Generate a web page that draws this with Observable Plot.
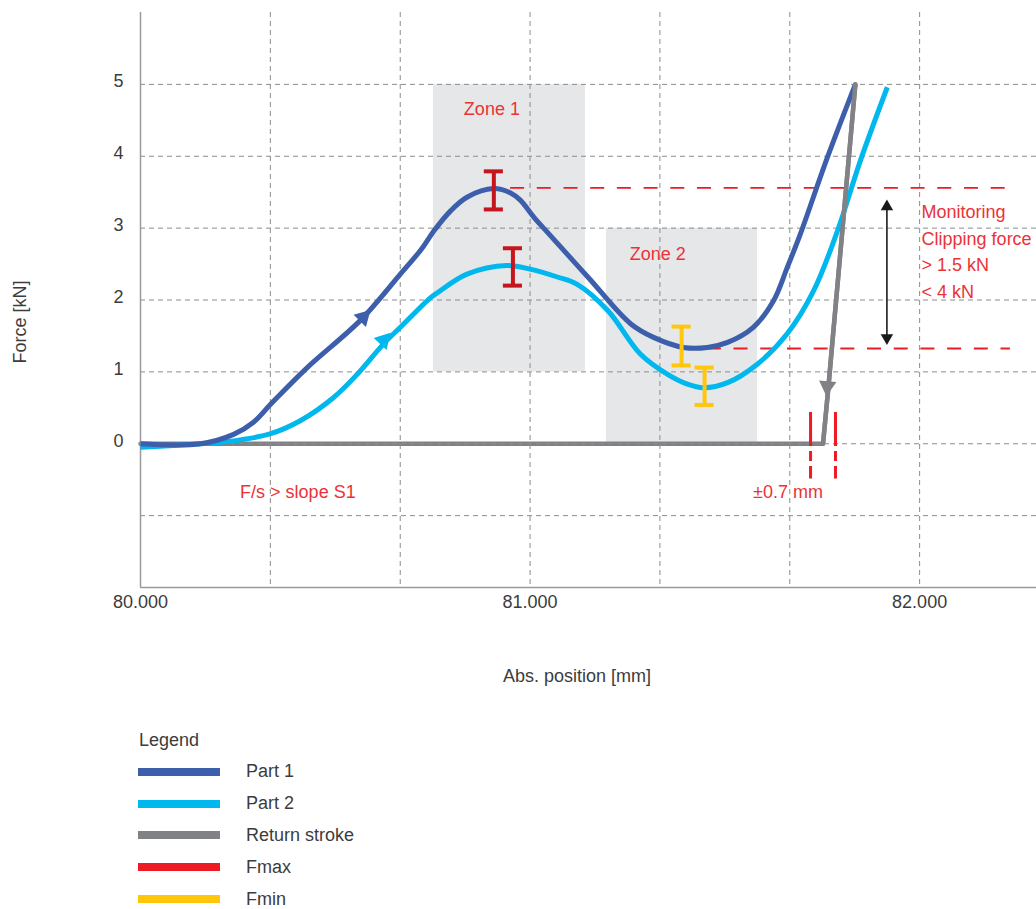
<!DOCTYPE html>
<html>
<head>
<meta charset="utf-8">
<script src="https://cdn.jsdelivr.net/npm/d3@7"></script>
<script src="https://cdn.jsdelivr.net/npm/@observablehq/plot@0.6"></script>
<style>
  body { margin: 0; background: #fff; font-family: "Liberation Sans", Arial, sans-serif; }
  #wrap { position: relative; width: 1036px; height: 909px; overflow: hidden; }
  #chart { position: absolute; left: 0; top: 0; }
  .axlabel { position: absolute; font-size: 18px; color: #3c3c3c; white-space: nowrap; }
  #legend { position: absolute; left: 138px; top: 726px; color: #3c3c3c; font-size: 18px; }
  #legend .title { margin-left: 1px; height: 30px; line-height: 28px; }
  #legend .row { display: flex; align-items: center; height: 31.8px; }
  #legend .sw { width: 82px; height: 8px; margin-right: 26px; }
</style>
</head>
<body>
<div id="wrap">
  <div id="chart"></div>
  <div class="axlabel" style="left:577px; top:676px; transform:translate(-50%,-50%);">Abs. position [mm]</div>
  <div class="axlabel" style="left:20px; top:322px; transform:translate(-50%,-50%) rotate(-90deg);">Force [kN]</div>
  <div id="legend"></div>
</div>
<script>
// ---- data ----
const part1X = [80.0, 80.154, 80.239, 80.29, 80.334, 80.428, 80.565, 80.667, 80.72, 80.753, 80.796, 80.838, 80.906, 80.95, 80.975, 81.01, 81.05, 81.15, 81.258, 81.317, 81.394, 81.455, 81.507, 81.573, 81.625, 81.66, 81.694, 81.763, 81.835];
const part1Y = [0.0, 0.0, 0.13, 0.30, 0.55, 1.06, 1.72, 2.36, 2.70, 2.96, 3.24, 3.43, 3.55, 3.49, 3.39, 3.15, 2.91, 2.31, 1.67, 1.48, 1.34, 1.34, 1.41, 1.62, 1.99, 2.45, 2.92, 3.98, 5.0];
const part2X = [80.0, 80.154, 80.239, 80.334, 80.41, 80.495, 80.557, 80.624, 80.667, 80.744, 80.762, 80.838, 80.94, 81.0, 81.07, 81.12, 81.2, 81.283, 81.352, 81.404, 81.445, 81.507, 81.584, 81.66, 81.728, 81.789, 81.848, 81.917];
const part2Y = [-0.05, 0.0, 0.04, 0.14, 0.32, 0.64, 0.97, 1.39, 1.62, 2.03, 2.10, 2.36, 2.48, 2.43, 2.32, 2.22, 1.85, 1.25, 0.97, 0.83, 0.78, 0.85, 1.11, 1.53, 2.13, 2.96, 3.94, 4.96];
const returnX = [81.835, 81.766, 81.752, 80.0];
const returnY = [5.0, 0.8, 0.0, 0.0];

const zoneNames = ["Zone 1", "Zone 2"];
const zoneX1 = [80.752, 81.196];
const zoneX2 = [81.142, 81.584];
const zoneY1 = [1, 0];
const zoneY2 = [5, 3];
const zoneLabelX = [80.902, 81.328];
const zoneLabelY = [4.66, 2.63];

const fmaxX = [80.907, 80.956];
const fmaxLo = [3.26, 2.20];
const fmaxHi = [3.79, 2.72];
const fminX = [81.389, 81.448];
const fminLo = [1.09, 0.54];
const fminHi = [1.63, 1.06];

const limitY = [3.56, 1.325];
const limitX1 = [80.95, 81.455];
const limitX2 = [82.233, 82.233];

const tolX = [81.72, 81.784];
const tolY1 = [0.435, 0.435];
const tolY2 = [-0.49, -0.49];

const flowArrowX = [80.572, 80.624, 81.763];
const flowArrowY = [1.76, 1.44, 0.80];
const flowArrowAngle = [45, 43, 185];
const flowArrowColor = ["#3d5fab", "#00b7ee", "#808285"];

const rangeArrowX = 81.916;
const rangeArrowTop = 3.30;
const rangeArrowBottom = 1.475;

const monitoringText = "Monitoring\nClipping force\n> 1.5 kN\n< 4 kN";
const monitoringX = 82.005;
const monitoringY = 2.70;
const notes = ["F/s > slope S1", "±0.7 mm"];
const noteX = [80.404, 81.662];
const noteY = [-0.67, -0.68];

const xTicks = [80, 81, 82];
const xGrid = [80.3333, 80.6667, 81, 81.3333, 81.6667, 82];
const yTicks = [0, 1, 2, 3, 4, 5];
const yGrid = [-1, 0, 1, 2, 3, 4, 5];

const legendNames = ["Part 1", "Part 2", "Return stroke", "Fmax", "Fmin"];
const legendColors = ["#3d5fab", "#00b7ee", "#808285", "#ed1c24", "#ffc60b"];

// ---- tables ----
const part1 = part1X.map((x, i) => ({x, y: part1Y[i]}));
const part2 = part2X.map((x, i) => ({x, y: part2Y[i]}));
const ret = returnX.map((x, i) => ({x, y: returnY[i]}));
const zones = zoneNames.map((name, i) => ({name, x1: zoneX1[i], x2: zoneX2[i], y1: zoneY1[i], y2: zoneY2[i], lx: zoneLabelX[i], ly: zoneLabelY[i]}));
const fmax = fmaxX.map((x, i) => ({x, lo: fmaxLo[i], hi: fmaxHi[i]}));
const fmin = fminX.map((x, i) => ({x, lo: fminLo[i], hi: fminHi[i]}));
const limits = limitY.map((y, i) => ({y, x1: limitX1[i], x2: limitX2[i]}));
const tols = tolX.map((x, i) => ({x, y1: tolY1[i], y2: tolY2[i]}));
const flows = flowArrowX.map((x, i) => ({x, y: flowArrowY[i], a: flowArrowAngle[i], c: flowArrowColor[i]}));
const ranges = [{x: rangeArrowX, y: rangeArrowTop, a: 0}, {x: rangeArrowX, y: rangeArrowBottom, a: 180}];
const noteRows = notes.map((t, i) => ({t, x: noteX[i], y: noteY[i]}));

const capHalf = 0.0245; // half cap width (mm)
const caps = (bars) => bars.flatMap(d => [{x: d.x, y: d.lo}, {x: d.x, y: d.hi}]);

const red = "#ec3237";
const gridStyle = {stroke: "#8c8c8c", strokeOpacity: 1, strokeWidth: 1, strokeDasharray: "5,4"};

const chart = Plot.plot({
  width: 1036,
  height: 700,
  marginLeft: 140,
  marginRight: 0,
  marginTop: 12,
  marginBottom: 113,
  style: {fontFamily: "Liberation Sans, Arial, sans-serif", fontSize: "18px", color: "#3c3c3c", background: "white"},
  x: {domain: [80, 82.3]},
  y: {domain: [-2, 6]},
  marks: [
    Plot.rect(zones, {x1: "x1", x2: "x2", y1: "y1", y2: "y2", fill: "#e6e7e8"}),
    Plot.line(ret, {x: "x", y: "y", stroke: "#808285", strokeWidth: 4.5, strokeLinejoin: "round"}),
    Plot.gridX(xGrid, gridStyle),
    Plot.gridY(yGrid, gridStyle),
    Plot.ruleX([80], {stroke: "#9a9a9a", strokeWidth: 1.5}),
    Plot.ruleY([-2], {stroke: "#9a9a9a", strokeWidth: 1.5}),
    Plot.axisX({ticks: xTicks, tickSize: 0, tickPadding: 8, tickFormat: d3.format(".3f"), label: null, fontSize: 18}),
    Plot.axisY({ticks: yTicks, tickSize: 0, tickPadding: 17, dy: -3, label: null, fontSize: 18}),
    Plot.text(zones, {x: "lx", y: "ly", text: "name", fill: red, fontSize: 18}),
    Plot.ruleY(limits, {y: "y", x1: "x1", x2: "x2", stroke: "#ed1c24", strokeWidth: 1.8, strokeDasharray: "14,12.7"}),
    Plot.line(part2, {x: "x", y: "y", stroke: "#00b7ee", strokeWidth: 5, curve: "catmull-rom", strokeLinecap: "butt"}),
    Plot.line(part1, {x: "x", y: "y", stroke: "#3d5fab", strokeWidth: 5, curve: "catmull-rom", strokeLinecap: "butt"}),
    Plot.line(ret.slice(0, 3), {x: "x", y: "y", stroke: "#808285", strokeWidth: 4.5, strokeLinejoin: "round"}),
    Plot.ruleX(tols, {x: "x", y1: "y1", y2: "y2", stroke: "#ed1c24", strokeWidth: 3, strokeDasharray: "34,5,10,5,14"}),
    Plot.ruleX(fmax, {x: "x", y1: "lo", y2: "hi", stroke: "#c4161c", strokeWidth: 4}),
    Plot.ruleY(caps(fmax), {y: "y", x1: d => d.x - capHalf, x2: d => d.x + capHalf, stroke: "#c4161c", strokeWidth: 4}),
    Plot.ruleX(fmin, {x: "x", y1: "lo", y2: "hi", stroke: "#ffc60b", strokeWidth: 4}),
    Plot.ruleY(caps(fmin), {y: "y", x1: d => d.x - capHalf, x2: d => d.x + capHalf, stroke: "#ffc60b", strokeWidth: 4}),
    Plot.dot(flows, {x: "x", y: "y", symbol: "triangle", r: 6.5, fill: "c", stroke: null, rotate: "a"}),
    Plot.ruleX([rangeArrowX], {y1: rangeArrowBottom, y2: rangeArrowTop, stroke: "#1a1a1a", strokeWidth: 1.6}),
    Plot.dot(ranges, {x: "x", y: "y", symbol: "triangle", r: 4.6, fill: "#1a1a1a", stroke: null, rotate: "a"}),
    Plot.text([monitoringText], {x: monitoringX, y: monitoringY, text: d => d, textAnchor: "start", fill: red, fontSize: 18, lineHeight: 1.47}),
    Plot.text(noteRows, {x: "x", y: "y", text: "t", fill: red, fontSize: 18})
  ]
});
document.getElementById("chart").appendChild(chart);

// ---- legend ----
const lg = document.getElementById("legend");
const t = document.createElement("div");
t.className = "title";
t.textContent = "Legend";
lg.appendChild(t);
legendNames.forEach((name, i) => {
  const row = document.createElement("div");
  row.className = "row";
  const sw = document.createElement("div");
  sw.className = "sw";
  sw.style.background = legendColors[i];
  const lab = document.createElement("span");
  lab.textContent = name;
  row.appendChild(sw);
  row.appendChild(lab);
  lg.appendChild(row);
});
</script>
</body>
</html>
